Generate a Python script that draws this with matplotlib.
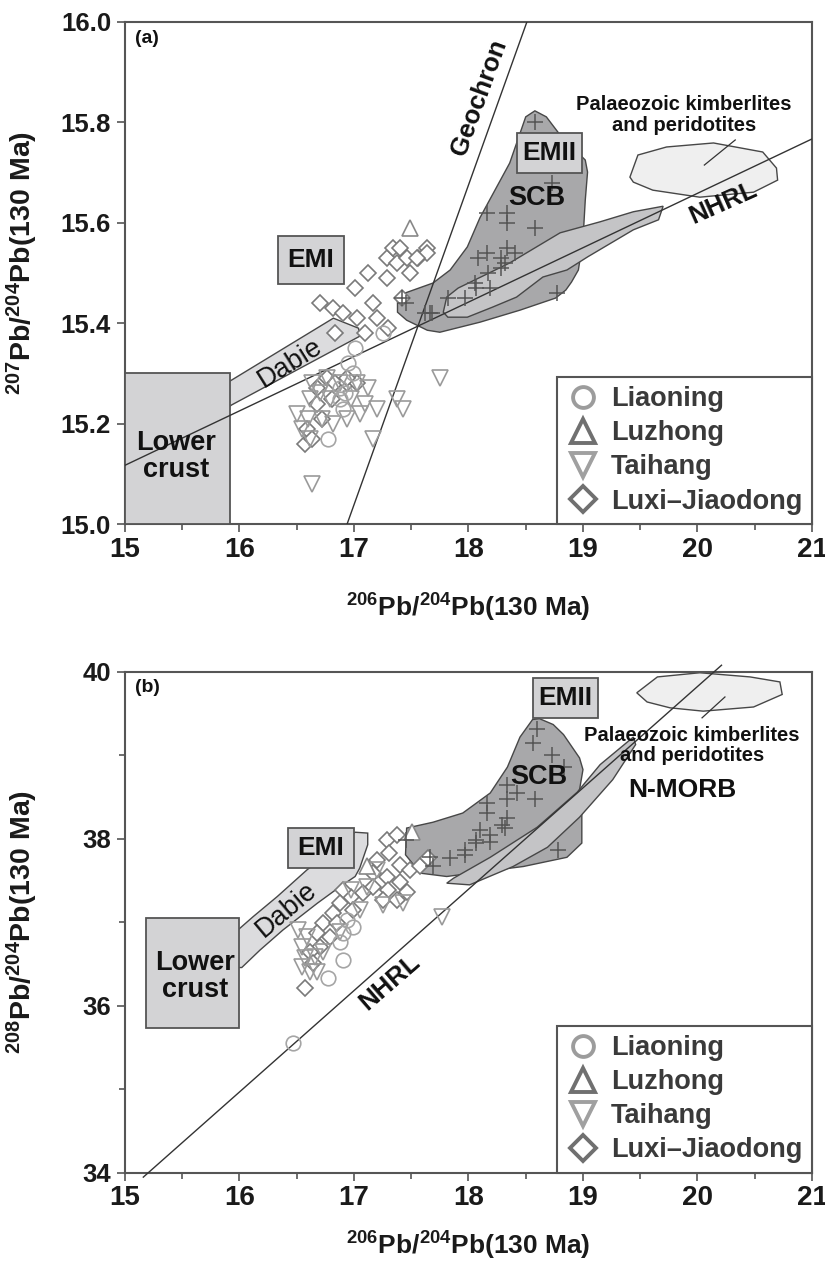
import matplotlib
matplotlib.use('Agg')
import matplotlib.pyplot as plt
from matplotlib.patches import Polygon, Rectangle
from matplotlib.lines import Line2D

plt.rcParams['font.family'] = ['Liberation Sans', 'DejaVu Sans']
plt.rcParams['mathtext.fontset'] = 'custom'
plt.rcParams['mathtext.rm'] = 'Liberation Sans'
plt.rcParams['mathtext.bf'] = 'Liberation Sans:bold'
plt.rcParams['mathtext.default'] = 'bf'

groups = ['Liaoning', 'Luzhong', 'Taihang', 'Luxi\u2013Jiaodong']

# ---------------- panel (a) : 207Pb/204Pb ----------------
a_liaoning_x = [17.25, 17.01, 16.95, 16.99, 16.88, 16.88, 16.90, 16.77, 16.92]
a_liaoning_y = [15.38, 15.35, 15.32, 15.30, 15.27, 15.25, 15.23, 15.17, 15.26]
a_luzhong_x = [17.49]
a_luzhong_y = [15.59]
a_taihang_x = [16.63, 16.70, 16.62, 16.50, 16.60, 16.72, 16.82, 16.94, 17.05, 17.10, 17.12, 17.03,
               17.20, 16.79, 16.88, 16.97, 16.55, 16.62, 17.17, 17.38, 17.43, 17.75, 16.63, 16.76]
a_taihang_y = [15.28, 15.26, 15.25, 15.22, 15.21, 15.21, 15.20, 15.21, 15.22, 15.24, 15.27, 15.28,
               15.23, 15.25, 15.28, 15.25, 15.19, 15.17, 15.17, 15.25, 15.23, 15.29, 15.08, 15.29]
a_luxi_x = [16.70, 16.82, 16.90, 17.03, 16.83, 17.01, 17.12, 17.17, 17.20, 17.10, 17.30, 17.29,
            17.29, 17.34, 17.40, 17.38, 17.46, 17.49, 17.56, 17.64, 17.64, 17.55, 17.42, 16.76,
            16.68, 16.83, 16.94, 17.03, 16.81, 16.68, 16.72, 16.59, 16.57, 16.63, 16.94]
a_luxi_y = [15.44, 15.43, 15.42, 15.41, 15.38, 15.47, 15.50, 15.44, 15.41, 15.38, 15.39, 15.49,
            15.53, 15.55, 15.55, 15.52, 15.53, 15.50, 15.53, 15.55, 15.54, 15.53, 15.45, 15.29,
            15.27, 15.28, 15.28, 15.28, 15.25, 15.24, 15.21, 15.19, 15.16, 15.17, 15.29]
a_scb_x = [18.58, 18.73, 18.16, 18.34, 18.34, 18.58, 18.16, 18.34, 18.41, 18.08, 18.28, 18.32,
           18.17, 18.28, 18.06, 18.07, 18.19, 17.97, 17.82, 17.66, 17.62, 18.77, 17.45, 17.68, 17.42]
a_scb_y = [15.80, 15.68, 15.62, 15.62, 15.60, 15.59, 15.54, 15.55, 15.54, 15.53, 15.53, 15.52,
           15.50, 15.51, 15.48, 15.47, 15.47, 15.45, 15.45, 15.42, 15.42, 15.46, 15.44, 15.42, 15.45]

a_scb_field = [(17.38, 15.452), (17.42, 15.458), (17.69, 15.480), (17.84, 15.506), (17.99, 15.552),
               (18.10, 15.610), (18.36, 15.719), (18.50, 15.811), (18.58, 15.823), (18.68, 15.811),
               (18.80, 15.775), (19.02, 15.725), (19.04, 15.701), (19.02, 15.645), (19.00, 15.566),
               (18.96, 15.506), (18.90, 15.482), (18.85, 15.466), (18.76, 15.450), (18.45, 15.426),
               (18.10, 15.402), (17.75, 15.382), (17.64, 15.386), (17.46, 15.406), (17.38, 15.422)]
a_nhrl_field = [(17.78, 15.422), (17.81, 15.452), (17.91, 15.470), (18.36, 15.520), (18.80, 15.580),
                (19.15, 15.602), (19.44, 15.622), (19.70, 15.633), (19.66, 15.606), (19.44, 15.586),
                (19.04, 15.532), (18.86, 15.506), (18.65, 15.492), (18.42, 15.452), (18.21, 15.432),
                (17.99, 15.412), (17.82, 15.412)]
a_kimb_field = [(19.41, 15.691), (19.48, 15.735), (19.73, 15.751), (20.14, 15.759), (20.57, 15.741),
                (20.69, 15.709), (20.70, 15.685), (20.49, 15.661), (20.02, 15.651), (19.61, 15.665),
                (19.44, 15.681)]
a_dabie_field = [(15.87, 15.227), (15.80, 15.251), (15.89, 15.281), (16.82, 15.410), (17.04, 15.390),
                 (17.05, 15.374), (15.93, 15.237)]
a_lower_crust = [15.0, 15.92, 15.0, 15.30]
a_emi_box = [16.34, 16.91, 15.478, 15.574]
a_emii_box = [18.42, 18.99, 15.699, 15.779]
a_nhrl_line = [(15.0, 21.0), (15.117, 15.767)]
a_geochron_line = [(16.94, 18.51), (15.0, 16.0)]

# ---------------- panel (b) : 208Pb/204Pb ----------------
b_liaoning_x = [16.94, 16.99, 16.90, 16.90, 16.77, 16.88, 16.47]
b_liaoning_y = [37.03, 36.95, 36.87, 36.55, 36.34, 36.77, 35.56]
b_luzhong_x = [17.51, 17.11]
b_luzhong_y = [38.08, 37.68]
b_taihang_x = [16.51, 16.59, 16.55, 16.57, 16.55, 16.62, 16.68, 16.73, 16.88, 17.05, 17.20, 17.43,
               17.11, 17.25, 17.77, 16.97, 16.66]
b_taihang_y = [36.91, 36.83, 36.71, 36.58, 36.47, 36.41, 36.41, 36.64, 36.89, 37.15, 37.63, 37.23,
               37.43, 37.21, 37.07, 37.39, 36.59]
b_luxi_x = [17.29, 17.38, 17.20, 17.31, 17.40, 17.49, 17.58, 17.65, 17.17, 17.29, 17.40, 17.46,
            17.30, 17.25, 17.17, 17.08, 16.97, 16.90, 16.88, 16.99, 16.82, 16.73, 16.85, 16.68,
            16.79, 16.70, 16.62, 16.57, 16.64, 17.38]
b_luxi_y = [37.99, 38.05, 37.75, 37.83, 37.69, 37.63, 37.67, 37.77, 37.59, 37.55, 37.49, 37.37,
            37.39, 37.27, 37.43, 37.35, 37.31, 37.39, 37.23, 37.15, 37.11, 36.99, 36.99, 36.87,
            36.83, 36.71, 36.64, 36.22, 36.52, 37.27]
b_scb_x = [18.60, 18.56, 18.73, 18.83, 18.34, 18.42, 18.34, 18.58, 18.16, 18.16, 18.34, 18.29,
           18.32, 18.10, 18.19, 18.19, 18.07, 18.07, 17.97, 17.97, 17.84, 18.78, 17.66, 17.45, 17.69]
b_scb_y = [39.32, 39.15, 39.01, 38.86, 38.64, 38.55, 38.48, 38.48, 38.43, 38.31, 38.25, 38.17,
           38.13, 38.11, 38.05, 37.96, 37.99, 37.95, 37.87, 37.81, 37.77, 37.87, 37.78, 37.99, 37.67]

b_scb_field = [(17.46, 38.13), (17.69, 38.20), (17.95, 38.31), (18.19, 38.55), (18.34, 38.86),
               (18.45, 39.22), (18.56, 39.43), (18.62, 39.44), (18.74, 39.37), (18.83, 39.25),
               (18.97, 38.97), (19.00, 38.83), (18.97, 38.59), (18.99, 38.38), (18.99, 37.95),
               (18.86, 37.78), (18.48, 37.67), (18.25, 37.63), (17.81, 37.55), (17.58, 37.59),
               (17.45, 37.81)]
b_nhrl_field = [(17.81, 37.47), (17.87, 37.53), (18.19, 37.78), (18.60, 38.14), (18.95, 38.56),
                (19.15, 38.89), (19.44, 39.22), (19.46, 39.13), (19.26, 38.71), (18.97, 38.26),
                (18.69, 37.90), (18.39, 37.67), (18.01, 37.45)]
b_kimb_field = [(19.47, 39.75), (19.65, 39.94), (20.02, 39.99), (20.46, 39.94), (20.72, 39.88),
                (20.74, 39.73), (20.49, 39.58), (20.05, 39.53), (19.76, 39.57), (19.56, 39.64)]
b_dabie_field = [(15.81, 36.67), (15.92, 36.83), (16.12, 37.07), (16.33, 37.31), (16.59, 37.63),
                 (16.72, 37.77), (17.01, 38.08), (17.12, 38.07), (17.12, 37.93), (17.05, 37.65),
                 (17.01, 37.55), (16.88, 37.43), (16.68, 37.23), (16.38, 36.91), (16.18, 36.67),
                 (16.02, 36.46), (15.87, 36.46)]
b_lower_crust = [15.18, 16.00, 35.74, 37.05]
b_emi_box = [16.42, 17.00, 37.65, 38.13]
b_emii_box = [18.56, 19.13, 39.45, 39.93]
b_nhrl_line = [(15.16, 20.21), (33.95, 40.08)]

FIELD_EDGE = '#474747'


def box(ax, ext, text=None, fs=19):
    x0, x1, y0, y1 = ext
    ax.add_patch(Rectangle((x0, y0), x1 - x0, y1 - y0, fc='#d3d3d5', ec='#555555', lw=1.3, zorder=3))
    if text:
        ax.text((x0 + x1) / 2, (y0 + y1) / 2, text, ha='center', va='center', fontsize=fs,
                fontweight='bold', color='#111111', zorder=7)


def points(ax, lx, ly, zx, zy, tx, ty, dx, dy, cx, cy):
    ax.plot(dx, dy, ls='', marker='D', ms=8.6, mfc='white', mec='#7a7a7a', mew=1.2, zorder=4)
    ax.plot(tx, ty, ls='', marker='v', ms=12, mfc='none', mec='#9a9a9a', mew=1.2, zorder=4)
    ax.plot(lx, ly, ls='', marker='o', ms=10.5, mfc='none', mec='#a5a5a5', mew=1.2, zorder=4)
    ax.plot(zx, zy, ls='', marker='^', ms=12, mfc='white', mec='#888888', mew=1.2, zorder=4)
    ax.plot(cx, cy, ls='', marker='+', ms=11, mec='#555555', mew=1.1, zorder=5)


def style(ax):
    for s in ax.spines.values():
        s.set_color('#555555')
        s.set_linewidth(1.5)
    ax.tick_params(which='both', direction='out', color='#555555', width=1.2)
    ax.tick_params(which='major', length=6)
    ax.tick_params(which='minor', length=4)
    ax.tick_params(axis='x', labelsize=20, pad=3)
    ax.tick_params(axis='y', labelsize=18.5, pad=4)
    for lab in ax.get_xticklabels() + ax.get_yticklabels():
        lab.set_fontweight('bold')
        lab.set_color('#1a1a1a')
    ax.set_xlim(15, 21)
    ax.set_xticks(range(15, 22))
    ax.set_xticks([15.5 + i for i in range(6)], minor=True)


def legend(ax):
    handles = [
        Line2D([], [], ls='', marker='o', ms=15, mfc='none', mec='#9c9c9c', mew=2.8),
        Line2D([], [], ls='', marker='^', ms=17.5, mfc='none', mec='#707070', mew=2.8),
        Line2D([], [], ls='', marker='v', ms=17.5, mfc='none', mec='#a0a0a0', mew=2.8),
        Line2D([], [], ls='', marker='D', ms=13, mfc='none', mec='#707070', mew=2.8),
    ]
    leg = ax.legend(handles, groups, loc='lower right', borderaxespad=0, fancybox=False,
                    framealpha=1, edgecolor='#555555', handlelength=1.25, handletextpad=0.4,
                    borderpad=0.35, labelspacing=0.3, prop={'size': 19.5, 'weight': 'bold'})
    leg.get_frame().set_linewidth(1.5)
    leg.set_zorder(8)
    for t in leg.get_texts():
        t.set_color('#3a3a3a')


fig = plt.figure(figsize=(8.25, 12.63), dpi=100)

# ---- panel (a)
ax = fig.add_axes([0.1515, 0.5851, 0.8327, 0.3975])
ax.add_patch(Polygon(a_kimb_field, fc='#efefef', ec=FIELD_EDGE, lw=1, zorder=1))
ax.add_patch(Polygon(a_scb_field, fc='#a8a8aa', ec=FIELD_EDGE, lw=1, zorder=1))
ax.add_patch(Polygon(a_nhrl_field, fc='#c4c4c6', ec=FIELD_EDGE, lw=1, zorder=1.5))
ax.add_patch(Polygon(a_dabie_field, fc='#dcdcde', ec=FIELD_EDGE, lw=1, zorder=1.5))
box(ax, a_lower_crust)
box(ax, a_emi_box, 'EMI')
box(ax, a_emii_box, 'EMII')
ax.plot(a_nhrl_line[0], a_nhrl_line[1], color='#333333', lw=1, zorder=3.5)
ax.plot(a_geochron_line[0], a_geochron_line[1], color='#333333', lw=1, zorder=3.5)
ax.plot([20.06, 20.33], [15.715, 15.765], color='#333333', lw=0.9, zorder=3.5)
points(ax, a_liaoning_x, a_liaoning_y, a_luzhong_x, a_luzhong_y, a_taihang_x, a_taihang_y,
       a_luxi_x, a_luxi_y, a_scb_x, a_scb_y)
ax.text(15.45, 15.135, 'Lower\ncrust', ha='center', va='center', fontsize=19.5, fontweight='bold',
        color='#111111', linespacing=1.05, zorder=7)
ax.text(16.44, 15.321, 'Dabie', ha='center', va='center', fontsize=19.5, rotation=32,
        color='#111111', zorder=7)
ax.text(18.60, 15.649, 'SCB', ha='center', va='center', fontsize=19.5, fontweight='bold',
        color='#111111', zorder=7)
ax.text(18.09, 15.85, 'Geochron', ha='center', va='center', fontsize=18.5, fontweight='bold',
        rotation=70, color='#111111', zorder=7)
ax.text(20.22, 15.64, 'NHRL', ha='center', va='center', fontsize=18.5, fontweight='bold',
        rotation=24, color='#111111', zorder=7)
ax.text(19.88, 15.815, 'Palaeozoic kimberlites\nand peridotites', ha='center', va='center',
        fontsize=14.5, fontweight='bold', color='#111111', linespacing=1.1, zorder=7)
ax.text(0.015, 0.985, '(a)', transform=ax.transAxes, ha='left', va='top', fontsize=14,
        fontweight='bold', color='#111111')
ax.set_ylim(15.0, 16.0)
ax.set_yticks([15.0, 15.2, 15.4, 15.6, 15.8, 16.0])
ax.set_yticklabels(['15.0', '15.2', '15.4', '15.6', '15.8', '16.0'])
style(ax)
legend(ax)
ax.set_xlabel('$^{206}$Pb/$^{204}$Pb(130 Ma)', fontsize=19, fontweight='bold', color='#1a1a1a')
ax.xaxis.set_label_coords(0.5, -0.135)
ax.set_ylabel('$^{207}$Pb/$^{204}$Pb(130 Ma)', fontsize=20.5, fontweight='bold', color='#1a1a1a')
ax.yaxis.set_label_coords(-0.123, 0.52)

# ---- panel (b)
ax = fig.add_axes([0.1515, 0.0713, 0.8327, 0.3967])
ax.add_patch(Polygon(b_kimb_field, fc='#efefef', ec=FIELD_EDGE, lw=1, zorder=1))
ax.add_patch(Polygon(b_scb_field, fc='#a8a8aa', ec=FIELD_EDGE, lw=1, zorder=1))
ax.add_patch(Polygon(b_nhrl_field, fc='#c4c4c6', ec=FIELD_EDGE, lw=1, zorder=1.5))
ax.add_patch(Polygon(b_dabie_field, fc='#dcdcde', ec=FIELD_EDGE, lw=1, zorder=1.5))
box(ax, b_lower_crust)
box(ax, b_emi_box, 'EMI')
box(ax, b_emii_box, 'EMII')
ax.plot(b_nhrl_line[0], b_nhrl_line[1], color='#333333', lw=1, zorder=3.5, clip_on=False)
ax.plot([20.04, 20.24], [39.45, 39.70], color='#333333', lw=0.9, zorder=3.5)
points(ax, b_liaoning_x, b_liaoning_y, b_luzhong_x, b_luzhong_y, b_taihang_x, b_taihang_y,
       b_luxi_x, b_luxi_y, b_scb_x, b_scb_y)
ax.text(15.61, 36.35, 'Lower\ncrust', ha='center', va='center', fontsize=19.5, fontweight='bold',
        color='#111111', linespacing=1.05, zorder=7)
ax.text(16.41, 37.15, 'Dabie', ha='center', va='center', fontsize=19.5, rotation=40,
        color='#111111', zorder=7)
ax.text(18.61, 38.74, 'SCB', ha='center', va='center', fontsize=19.5, fontweight='bold',
        color='#111111', zorder=7)
ax.text(17.31, 36.28, 'NHRL', ha='center', va='center', fontsize=18.5, fontweight='bold',
        rotation=41, color='#111111', zorder=7)
ax.text(19.95, 39.12, 'Palaeozoic kimberlites\nand peridotites', ha='center', va='center',
        fontsize=14.5, fontweight='bold', color='#111111', linespacing=1.1, zorder=7)
ax.text(19.87, 38.59, 'N-MORB', ha='center', va='center', fontsize=19, fontweight='bold',
        color='#111111', zorder=7)
ax.text(0.015, 0.985, '(b)', transform=ax.transAxes, ha='left', va='top', fontsize=14,
        fontweight='bold', color='#111111')
ax.set_ylim(34, 40)
ax.set_yticks([34, 36, 38, 40])
ax.set_yticks([35, 37, 39], minor=True)
style(ax)
legend(ax)
ax.set_xlabel('$^{206}$Pb/$^{204}$Pb(130 Ma)', fontsize=19, fontweight='bold', color='#1a1a1a')
ax.xaxis.set_label_coords(0.5, -0.114)
ax.set_ylabel('$^{208}$Pb/$^{204}$Pb(130 Ma)', fontsize=20.5, fontweight='bold', color='#1a1a1a')
ax.yaxis.set_label_coords(-0.123, 0.5)

fig.savefig('out.png', dpi=100)
